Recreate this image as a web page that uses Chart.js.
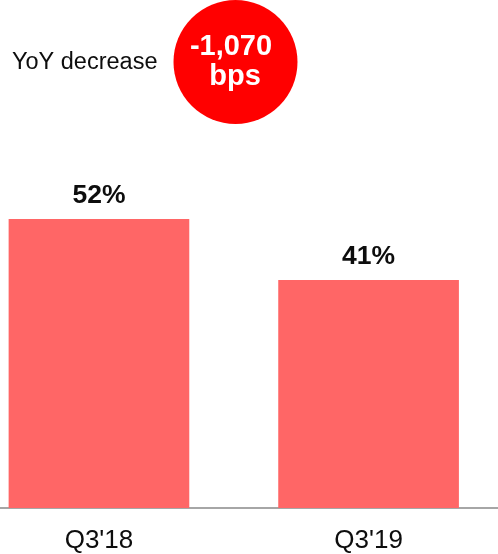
<!DOCTYPE html>
<html>
<head>
<meta charset="utf-8">
<script src="https://cdn.jsdelivr.net/npm/chart.js@4/dist/chart.umd.min.js"></script>
<style>
    html, body { margin: 0; padding: 0; background: #ffffff; }
    #wrap { position: relative; width: 498px; height: 554px; }
</style>
</head>
<body>
<div id="wrap"><canvas id="marginChart"></canvas></div>
<script>
// ===== MARGIN COMPARISON =====
const quarters = ["Q3'18", "Q3'19"];
const marginValues = [52, 41];
const changeLabel = ['-1,070', 'bps'];
const changeCaption = 'YoY decrease';

const FONT = '"Liberation Sans", Arial, Helvetica, sans-serif';

// value labels above each bar
const barLabels = {
    id: 'barLabels',
    afterDatasetsDraw(chart) {
        const ctx = chart.ctx;
        const meta = chart.getDatasetMeta(0);
        ctx.save();
        ctx.font = 'bold 26.5px ' + FONT;
        ctx.fillStyle = '#0d0d0d';
        ctx.textAlign = 'center';
        ctx.textBaseline = 'alphabetic';
        meta.data.forEach((bar, i) => {
            ctx.fillText(marginValues[i] + '%', bar.x, bar.y - 16);
        });
        ctx.restore();
    }
};

// caption and red badge at the top
const changeBadge = {
    id: 'changeBadge',
    afterDraw(chart) {
        const ctx = chart.ctx;
        ctx.save();
        ctx.font = '23.5px ' + FONT;
        ctx.fillStyle = '#0d0d0d';
        ctx.textAlign = 'left';
        ctx.textBaseline = 'alphabetic';
        ctx.fillText(changeCaption, 12, 69);

        ctx.beginPath();
        ctx.arc(235.5, 62, 62, 0, Math.PI * 2);
        ctx.fillStyle = '#ff0000';
        ctx.fill();

        ctx.font = 'bold 29px ' + FONT;
        ctx.fillStyle = '#ffffff';
        ctx.textAlign = 'center';
        ctx.fillText(changeLabel[0], 231, 55);
        ctx.fillText(changeLabel[1], 235, 85);
        ctx.restore();
    }
};

document.addEventListener('DOMContentLoaded', function() {
    const ctx = document.getElementById('marginChart');

    new Chart(ctx, {
        type: 'bar',
        data: {
            datasets: [{
                data: marginValues.map((v, i) => ({ x: i, y: v })),
                backgroundColor: '#ff6666',
                borderWidth: 0,
                barThickness: 180
            }]
        },
        options: {
            responsive: true,
            maintainAspectRatio: false,
            animation: false,
            events: [],
            layout: {
                padding: { top: 64, bottom: 0, left: 0, right: 0 }
            },
            plugins: {
                legend: { display: false },
                tooltip: { enabled: false }
            },
            scales: {
                x: {
                    type: 'linear',
                    offset: false,
                    min: -0.367,
                    max: 1.48,
                    afterBuildTicks: (scale) => {
                        scale.ticks = quarters.map((q, i) => ({ value: i }));
                    },
                    afterFit: (scale) => {
                        scale.height = 46;
                    },
                    ticks: {
                        callback: (v) => quarters[v],
                        color: '#0d0d0d',
                        font: { family: FONT, size: 26 },
                        padding: 17,
                        maxRotation: 0,
                        autoSkip: false
                    },
                    grid: { display: false, drawTicks: false },
                    border: { display: true, color: '#a6a6a6', width: 2 }
                },
                y: {
                    display: false,
                    min: 0,
                    max: 80
                }
            }
        },
        plugins: [barLabels, changeBadge]
    });
});
</script>
</body>
</html>
